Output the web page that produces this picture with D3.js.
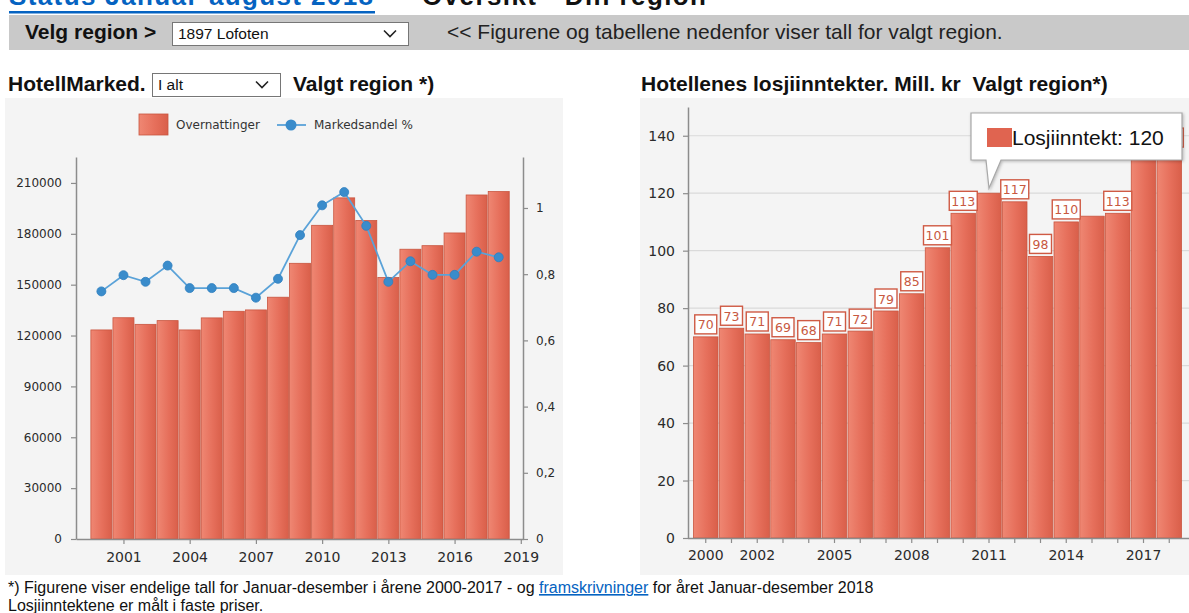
<!DOCTYPE html>
<html><head><meta charset="utf-8">
<script src="https://cdn.jsdelivr.net/npm/d3@7"></script>
<style>
html,body{margin:0;padding:0;background:#fff;overflow:hidden;}
svg{display:block;}
</style></head><body>
<svg id="c" width="1189" height="613"></svg>
<script>
// ---------- data ----------
const years = [2000,2001,2002,2003,2004,2005,2006,2007,2008,2009,2010,2011,2012,2013,2014,2015,2016,2017,2018];
const overnattinger = [123300,130500,126600,128800,123300,130400,134300,135100,142600,162600,185000,201200,187800,154200,170900,173000,180500,202900,204900];
const markedsandel = [0.748,0.797,0.777,0.826,0.758,0.758,0.758,0.729,0.786,0.918,1.008,1.048,0.946,0.777,0.839,0.798,0.798,0.868,0.851];
const losjiinntekt = [70,73,71,69,68,71,72,79,85,101,113,120,117,98,110,112,113,133,135];
const showLabel = [true,true,true,true,true,true,true,true,true,true,true,false,true,true,true,false,true,false,true];
const leftYTicks = [0,30000,60000,90000,120000,150000,180000,210000];
const leftY2Ticks = [0,0.2,0.4,0.6,0.8,1];
const leftXTicks = [2001,2004,2007,2010,2013,2016,2019];
const rightYTicks = [0,20,40,60,80,100,120,140];
const rightXLabels = [2000,2002,2005,2008,2011,2014,2017];
const tooltipYear = 2011;

const svg = d3.select('#c');
const HF = 'Liberation Sans, Arial, sans-serif';
const CF = 'DejaVu Sans, Verdana, sans-serif';
const HS = 21;

// gradient for bars
const defs = svg.append('defs');
const g1 = defs.append('linearGradient').attr('id','barGrad').attr('x1','0').attr('x2','1').attr('y1','0').attr('y2','0');
g1.append('stop').attr('offset','0').attr('stop-color','#ef8773');
g1.append('stop').attr('offset','0.55').attr('stop-color','#e66f5b');
g1.append('stop').attr('offset','1').attr('stop-color','#d95f4a');

// ---------- page header ----------
svg.append('text').attr('x',9).attr('y',5).attr('font-family',HF).attr('font-weight','bold').attr('font-size',26)
  .attr('fill','#0563c1').attr('textLength',364).text('Status Januar-august 2018');
svg.append('rect').attr('x',9).attr('y',11).attr('width',366).attr('height',2.5).attr('fill','#0563c1');
svg.append('text').attr('x',422).attr('y',5).attr('font-family',HF).attr('font-weight','bold').attr('font-size',26)
  .attr('fill','#111').attr('textLength',284).text('Oversikt - Din region');

svg.append('rect').attr('x',9).attr('y',15).attr('width',1180).attr('height',35).attr('fill','#c9c9c9');
svg.append('text').attr('x',25).attr('y',39).attr('font-family',HF).attr('font-weight','bold').attr('font-size',HS)
  .attr('fill','#111').text('Velg region >');

function selectBox(x,y,w,h,label){
  svg.append('rect').attr('x',x+0.5).attr('y',y+0.5).attr('width',w).attr('height',h).attr('fill','#fff').attr('stroke','#767676');
  svg.append('text').attr('x',x+6).attr('y',y+h/2+5.5).attr('font-family',HF).attr('font-size',15.5).attr('fill','#111').text(label);
  const cx = x+w-18, cy = y+h/2;
  svg.append('path').attr('d',`M${cx-6},${cy-3} L${cx},${cy+3} L${cx+6},${cy-3}`).attr('fill','none').attr('stroke','#222').attr('stroke-width',1.6);
}
selectBox(172,22,236,23,'1897 Lofoten');
svg.append('text').attr('x',447).attr('y',39).attr('font-family',HF).attr('font-size',HS)
  .attr('fill','#222').text('<< Figurene og tabellene nedenfor viser tall for valgt region.');

svg.append('text').attr('x',8).attr('y',91).attr('font-family',HF).attr('font-weight','bold').attr('font-size',HS)
  .attr('fill','#111').text('HotellMarked.');
selectBox(152,73,128,23,'I alt');
svg.append('text').attr('x',293).attr('y',91).attr('font-family',HF).attr('font-weight','bold').attr('font-size',HS)
  .attr('fill','#111').text('Valgt region *)');
svg.append('text').attr('x',641).attr('y',91).attr('font-family',HF).attr('font-weight','bold').attr('font-size',HS)
  .attr('fill','#111').attr('xml:space','preserve').text('Hotellenes losjiinntekter. Mill. kr  Valgt region*)');

// ---------- left chart ----------
svg.append('rect').attr('x',5).attr('y',98).attr('width',558).attr('height',477).attr('fill','#f4f4f4');

const xL = d3.scaleLinear().domain([1998.85, 2019.1]).range([76, 523]);
const yL = d3.scaleLinear().domain([0, 225300]).range([539, 157]);
const yR = d3.scaleLinear().domain([0, 1.154]).range([539, 157]);
const barW = 21;

const gl = svg.append('g');
gl.selectAll('rect.b').data(years).enter().append('rect').attr('class','b')
  .attr('x', (d)=> xL(d)-barW/2).attr('width', barW)
  .attr('y', (d,i)=> yL(overnattinger[i])).attr('height',(d,i)=> yL(0)-yL(overnattinger[i]))
  .attr('fill','url(#barGrad)').attr('stroke','#c9553f').attr('stroke-width',0.8);

function styleAxis(g, fs, fam){
  g.selectAll('path.domain').attr('stroke','#8c8c8c').attr('stroke-width',1.5);
  g.selectAll('.tick line').attr('stroke','#8c8c8c').attr('stroke-width',1.2);
  g.selectAll('.tick text').attr('font-family',fam).attr('font-size',fs).attr('fill','#2b2b2b');
}
const axL = svg.append('g').attr('transform','translate(76,0)')
  .call(d3.axisLeft(yL).tickValues(leftYTicks).tickSize(5).tickSizeOuter(0).tickPadding(9).tickFormat(d3.format('d')));
styleAxis(axL, 12, CF);
const axR = svg.append('g').attr('transform','translate(523,0)')
  .call(d3.axisRight(yR).tickValues(leftY2Ticks).tickSize(5).tickSizeOuter(0).tickPadding(8).tickFormat(d=> String(+d.toFixed(1)).replace('.',',')));
styleAxis(axR, 12, CF);
const axB = svg.append('g').attr('transform','translate(0,539)')
  .call(d3.axisBottom(xL).tickValues(leftXTicks).tickSize(5).tickSizeOuter(0).tickPadding(8).tickFormat(d3.format('d')));
styleAxis(axB, 14, CF);

const line = d3.line().x((d,i)=> xL(years[i])).y(d=> yR(d));
gl.append('path').datum(markedsandel).attr('d',line).attr('fill','none').attr('stroke','#5aa2d8').attr('stroke-width',1.8);
gl.selectAll('circle.m').data(markedsandel).enter().append('circle').attr('class','m')
  .attr('cx',(d,i)=> xL(years[i])).attr('cy',d=> yR(d)).attr('r',4.5)
  .attr('fill','#3a8ccb').attr('stroke','#2f7fbf').attr('stroke-width',0.8);

// legend
svg.append('rect').attr('x',139).attr('y',114).attr('width',29).attr('height',21).attr('fill','url(#barGrad)').attr('stroke','#c9553f').attr('stroke-width',0.8);
svg.append('text').attr('x',176).attr('y',129).attr('font-family',CF).attr('font-size',12).attr('fill','#333').text('Overnattinger');
svg.append('line').attr('x1',277).attr('x2',306).attr('y1',125).attr('y2',125).attr('stroke','#5aa2d8').attr('stroke-width',1.8);
svg.append('circle').attr('cx',291).attr('cy',125).attr('r',5.5).attr('fill','#3a8ccb');
svg.append('text').attr('x',314).attr('y',129).attr('font-family',CF).attr('font-size',12).attr('fill','#333').text('Markedsandel %');

// ---------- right chart ----------
svg.append('rect').attr('x',640).attr('y',98).attr('width',549).attr('height',477).attr('fill','#f4f4f4');
const xB = d3.scaleBand().domain(years).range([693, 1182]).paddingInner(0.05).paddingOuter(0.02);
const yB = d3.scaleLinear().domain([0,150]).range([538, 107]);

const gr = svg.append('g');
gr.selectAll('line.grid').data(rightYTicks.filter(d=>d>0)).enter().append('line').attr('class','grid')
  .attr('x1',689).attr('x2',1189).attr('y1',d=>yB(d)).attr('y2',d=>yB(d)).attr('stroke','#dadada').attr('stroke-width',1.2);

gr.selectAll('rect.b').data(years).enter().append('rect').attr('class','b')
  .attr('x',d=> xB(d)).attr('width',xB.bandwidth())
  .attr('y',(d,i)=> yB(losjiinntekt[i])).attr('height',(d,i)=> yB(0)-yB(losjiinntekt[i]))
  .attr('fill','url(#barGrad)').attr('stroke','#c9553f').attr('stroke-width',0.8);

const axRL = svg.append('g').attr('transform','translate(688,0)')
  .call(d3.axisLeft(yB).tickValues(rightYTicks).tickSize(5).tickSizeOuter(0).tickPadding(8).tickFormat(d3.format('d')));
styleAxis(axRL, 14, CF);
const axRB = svg.append('g').attr('transform','translate(0,538)')
  .call(d3.axisBottom(xB).tickValues(years).tickSize(5).tickSizeOuter(0).tickPadding(7)
    .tickFormat(d=> rightXLabels.includes(d) ? String(d) : ''));
axRB.select('path.domain').attr('d','M688,0.5H1189');
styleAxis(axRB, 14, CF);

// data labels
const lab = gr.selectAll('g.lab').data(years.filter((d,i)=> showLabel[i])).enter().append('g').attr('class','lab');
lab.each(function(d){
  const i = years.indexOf(d);
  const v = losjiinntekt[i];
  const t = String(v);
  const w = t.length === 3 ? 28 : 22;
  const cx = xB(d) + xB.bandwidth()/2;
  const top = yB(v) - 22;
  const g = d3.select(this);
  g.append('rect').attr('x',cx - w/2).attr('y',top).attr('width',w).attr('height',19)
    .attr('fill','#fff').attr('stroke','#cf5a44').attr('stroke-width',1.4);
  g.append('text').attr('x',cx).attr('y',top+14.5).attr('text-anchor','middle').attr('font-family',CF)
    .attr('font-size',12.5).attr('fill','#c8593f').text(t);
});

// tooltip
const ti = years.indexOf(tooltipYear);
const tipX = xB(tooltipYear) + xB.bandwidth()/2;
const tipY = yB(losjiinntekt[ti]) - 5;
const bx = tipX - 18, by = 113, bw = 211, bh = 47;
const tt = svg.append('g');
tt.append('path')
  .attr('d',`M${bx},${by} H${bx+bw} V${by+bh} H${tipX+12} L${tipX},${tipY} L${tipX-3},${by+bh} H${bx} Z`)
  .attr('fill','#fff').attr('stroke','#a8a8a8').attr('stroke-width',1.2)
  .style('filter','drop-shadow(1px 1px 1.5px rgba(0,0,0,0.25))');
tt.append('rect').attr('x',bx+16).attr('y',by+15).attr('width',25).attr('height',19).attr('fill','#e06450');
tt.append('text').attr('x',bx+41).attr('y',by+32).attr('font-family',HF).attr('font-size',21).attr('fill','#111')
  .text('Losjiinntekt: ' + losjiinntekt[ti]);

// ---------- footer ----------
const f = svg.append('text').attr('x',8).attr('y',593).attr('font-family',HF).attr('font-size',16).attr('fill','#111');
f.append('tspan').text('*) Figurene viser endelige tall for Januar-desember i årene 2000-2017 - og ');
f.append('tspan').attr('fill','#0563c1').attr('text-decoration','underline').text('framskrivninger');
f.append('tspan').text(' for året Januar-desember 2018');
svg.append('text').attr('x',8).attr('y',611).attr('font-family',HF).attr('font-size',16).attr('fill','#111')
  .text('Losjiinntektene er målt i faste priser.');
</script>
</body></html>
